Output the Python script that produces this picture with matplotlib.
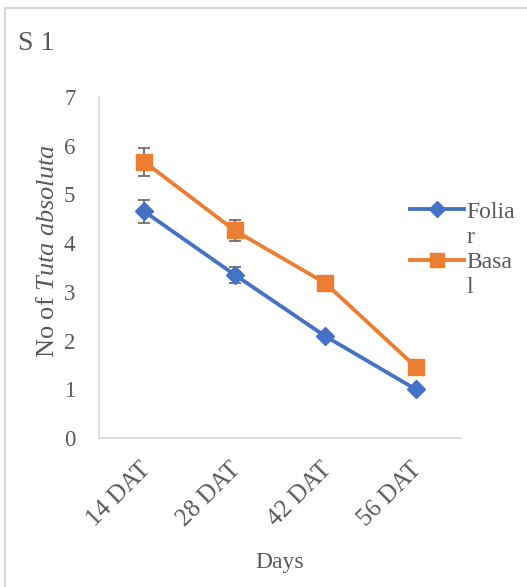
import matplotlib
matplotlib.use('Agg')
import matplotlib.pyplot as plt
from matplotlib.lines import Line2D
from matplotlib.patches import Rectangle
import matplotlib.transforms as mtransforms

categories = ['14 DAT', '28 DAT', '42 DAT', '56 DAT']
foliar = [4.65, 3.35, 2.09, 1.00]
foliar_err = [0.23, 0.17, 0.05, 0.05]
basal = [5.67, 4.26, 3.18, 1.46]
basal_err = [0.29, 0.21, 0.05, 0.05]
yticks = [0, 1, 2, 3, 4, 5, 6, 7]

plt.rcParams['font.family'] = ['Liberation Serif', 'DejaVu Serif']
plt.rcParams['mathtext.fontset'] = 'custom'
plt.rcParams['mathtext.rm'] = 'Liberation Serif'
plt.rcParams['mathtext.it'] = 'Liberation Serif:italic'

GRAY = '#595959'
BLUE = '#4472C4'
ORANGE = '#ED7D31'

W, H = 527, 587
fig = plt.figure(figsize=(W / 100, H / 100), dpi=100)
ax = fig.add_axes([99 / W, 1 - 438 / H, 362 / W, 341 / H])
x = list(range(len(categories)))

ax.errorbar(x, foliar, yerr=foliar_err, fmt='none', ecolor=GRAY, elinewidth=1.1,
            capsize=4.3, capthick=1.1, zorder=2)
ax.errorbar(x, basal, yerr=basal_err, fmt='none', ecolor=GRAY, elinewidth=1.1,
            capsize=4.3, capthick=1.1, zorder=2)
ax.plot(x, foliar, color=BLUE, lw=2.75, marker='D', ms=9.5, zorder=3)
ax.plot(x, basal, color=ORANGE, lw=2.75, marker='s', ms=12, zorder=3)

ax.set_xlim(-0.5, len(categories) - 0.5)
ax.set_ylim(0, 7)
ax.set_yticks(yticks)
ax.set_xticks(x)
ax.set_xticklabels(categories)
ax.tick_params(axis='y', length=0, pad=17, labelsize=16.5, labelcolor=GRAY)
ax.tick_params(axis='x', length=0, pad=20, labelsize=18, labelcolor=GRAY)
for lab in ax.get_xticklabels():
    lab.set_rotation(45)
    lab.set_ha('right')
    lab.set_va('center')
    lab.set_rotation_mode('anchor')
    lab.set_transform(lab.get_transform() + mtransforms.ScaledTranslation(3 / 100, 0, fig.dpi_scale_trans))

for s in ['top', 'right']:
    ax.spines[s].set_visible(False)
for s in ['left', 'bottom']:
    ax.spines[s].set_color('#d9d9d9')
    ax.spines[s].set_linewidth(1.2)

ax.set_ylabel(r'No of $\mathit{Tuta\ absoluta}$', fontsize=19, color=GRAY)
ax.yaxis.set_label_coords(-0.11, 0.548)
ax.set_xlabel('Days', fontsize=17, color=GRAY)
ax.xaxis.set_label_coords(0.5, -0.334)

handles = [Line2D([], [], color=BLUE, lw=2.75, marker='D', ms=8),
           Line2D([], [], color='none'),
           Line2D([], [], color=ORANGE, lw=2.75, marker='s', ms=10.5),
           Line2D([], [], color='none')]
labels = ['Folia', 'r', 'Basa', 'l']
ax.legend(handles, labels, loc='upper left', bbox_to_anchor=(410 / W, 1 - 201 / H),
          bbox_transform=fig.transFigure, frameon=False, fontsize=17,
          handlelength=2.3, handletextpad=0.1, labelspacing=0.16,
          borderpad=0, borderaxespad=0, labelcolor=GRAY)

fig.text(18 / W, 1 - 50 / H, 'S 1', fontsize=20, color=GRAY, va='baseline')

fig.add_artist(Rectangle((5 / W, -0.05), 1.1, 1 - 8 / H + 0.05, transform=fig.transFigure,
                         fill=False, edgecolor='#d9d9d9', lw=1.5))

fig.savefig('out.png', dpi=100)
